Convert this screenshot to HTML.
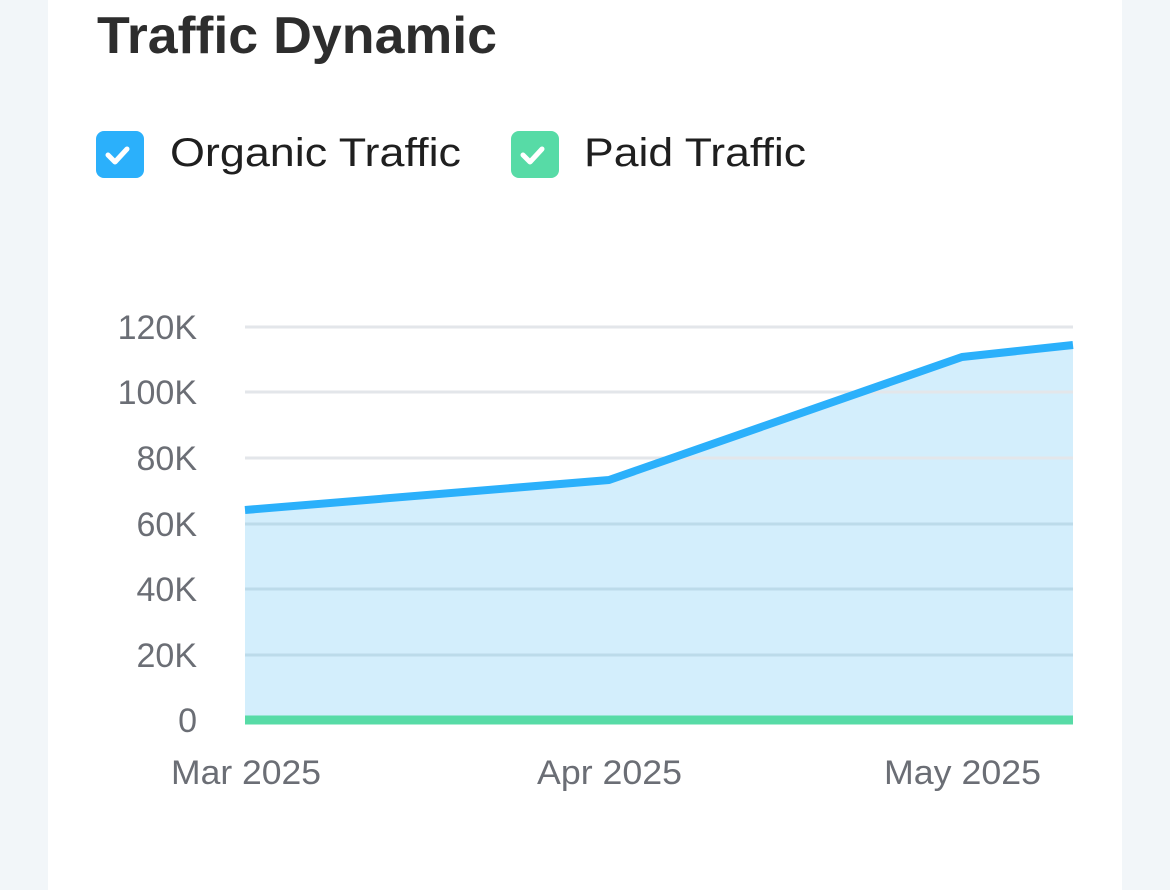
<!DOCTYPE html>
<html><head><style>
html,body{margin:0;padding:0;background:#f2f6f9;}
svg{display:block;}
</style></head><body>
<svg width="1170" height="890" xmlns="http://www.w3.org/2000/svg" font-family="Liberation Sans, sans-serif">
<rect x="0" y="0" width="1170" height="890" fill="#f2f6f9"/>
<rect x="48" y="0" width="1074" height="890" fill="#ffffff"/>
<text x="97" y="53" font-size="52" font-weight="bold" fill="#2d2d2d" textLength="400" lengthAdjust="spacingAndGlyphs">Traffic Dynamic</text>
<rect x="96" y="131" width="48" height="47" rx="8" fill="#2bb0fb"/>
<path d="M108 155 l7 7 l12 -13" stroke="#fff" stroke-width="5" fill="none" stroke-linecap="round" stroke-linejoin="round"/>
<text x="170" y="166" font-size="40" fill="#1f1f1f" textLength="291" lengthAdjust="spacingAndGlyphs">Organic Traffic</text>
<rect x="511" y="131" width="48" height="47" rx="8" fill="#57dba6"/>
<path d="M523 155 l7 7 l12 -13" stroke="#fff" stroke-width="5" fill="none" stroke-linecap="round" stroke-linejoin="round"/>
<text x="584" y="166" font-size="40" fill="#1f1f1f" textLength="222" lengthAdjust="spacingAndGlyphs">Paid Traffic</text>
<polygon points="245,510 609,480 962,357 1073,345 1073,720 245,720" fill="#d3eefc"/>
<g stroke="#e3e6ea" stroke-width="3">
<line x1="245" y1="327" x2="1073" y2="327"/>
<line x1="245" y1="392" x2="1073" y2="392"/>
<line x1="245" y1="458" x2="1073" y2="458"/>
</g>
<g stroke="#bcdbea" stroke-width="3">
<line x1="245" y1="524" x2="1073" y2="524"/>
<line x1="245" y1="589" x2="1073" y2="589"/>
<line x1="245" y1="655" x2="1073" y2="655"/>
</g>
<polyline points="245,510 609,480 962,357 1073,345" fill="none" stroke="#2bb0fb" stroke-width="8" stroke-linejoin="round"/>
<line x1="245" y1="720" x2="1073" y2="720" stroke="#57dba6" stroke-width="9"/>
<g font-size="34" fill="#6b6e75" text-anchor="end">
<text x="197" y="339">120K</text>
<text x="197" y="404">100K</text>
<text x="197" y="470">80K</text>
<text x="197" y="536">60K</text>
<text x="197" y="601">40K</text>
<text x="197" y="667">20K</text>
<text x="197" y="732">0</text>
</g>
<g font-size="34" fill="#6b6e75">
<text x="171" y="784" textLength="150" lengthAdjust="spacingAndGlyphs">Mar 2025</text>
<text x="537" y="784" textLength="145" lengthAdjust="spacingAndGlyphs">Apr 2025</text>
<text x="884" y="784" textLength="157" lengthAdjust="spacingAndGlyphs">May 2025</text>
</g>
</svg>
</body></html>
